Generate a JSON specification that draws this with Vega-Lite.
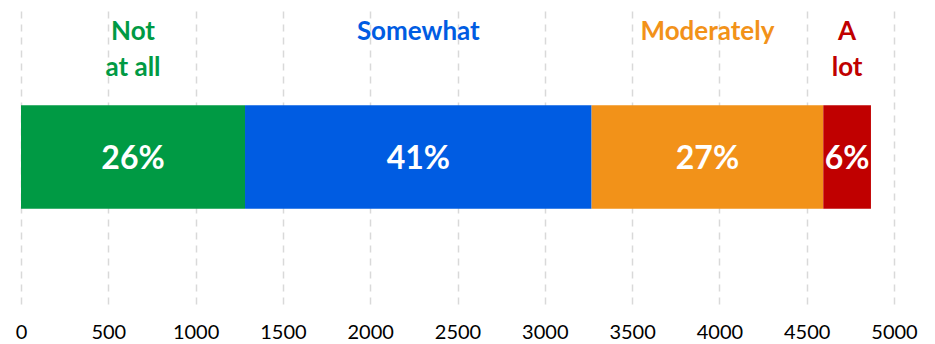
{
  "$schema": "https://vega.github.io/schema/vega-lite/v6.json",
  "width": 873,
  "height": 294,
  "autosize": {"type": "none"},
  "padding": {"left": 21, "top": 10, "right": 41, "bottom": 40},
  "background": "white",
  "config": {"view": {"stroke": null}, "font": "Lato"},
  "data": {
    "values": [
      {"category": "Not at all", "label": "Not\nat all", "order": 1, "count": 1283},
      {"category": "Somewhat", "label": "Somewhat", "order": 2, "count": 1985},
      {"category": "Moderately", "label": "Moderately", "order": 3, "count": 1327},
      {"category": "A lot", "label": "A\nlot", "order": 4, "count": 273}
    ]
  },
  "transform": [
    {"joinaggregate": [{"op": "sum", "field": "count", "as": "total"}]},
    {"calculate": "datum.count / datum.total", "as": "share"},
    {"stack": "count", "groupby": [], "sort": [{"field": "order"}], "as": ["x0", "x1"]},
    {"calculate": "(datum.x0 + datum.x1) / 2", "as": "xmid"},
    {"calculate": "'all'", "as": "row"}
  ],
  "encoding": {
    "y": {"field": "row", "type": "nominal", "axis": null}
  },
  "layer": [
    {
      "mark": {"type": "bar", "size": 103.6},
      "encoding": {
        "x": {
          "field": "x0",
          "type": "quantitative",
          "scale": {"domain": [0, 5000], "nice": false},
          "axis": {
            "title": null,
            "format": "d",
            "values": [0, 500, 1000, 1500, 2000, 2500, 3000, 3500, 4000, 4500, 5000],
            "grid": true,
            "gridDash": [7, 6],
            "gridColor": "#d9d9d9",
            "gridWidth": 1.5,
            "domain": false,
            "ticks": false,
            "labelFontSize": 20,
            "labelColor": "#000000",
            "labelPadding": 18,
            "labelFlush": false
          }
        },
        "x2": {"field": "x1"},
        "color": {
          "field": "category",
          "type": "nominal",
          "scale": {
            "domain": ["Not at all", "Somewhat", "Moderately", "A lot"],
            "range": ["#009A44", "#005CE2", "#F29219", "#C00000"]
          },
          "legend": null
        }
      }
    },
    {
      "mark": {"type": "text", "color": "white", "fontSize": 32, "fontWeight": "bold", "baseline": "middle", "dy": 2},
      "encoding": {
        "x": {"field": "xmid", "type": "quantitative"},
        "text": {"field": "share", "type": "quantitative", "format": ".0%"}
      }
    },
    {
      "mark": {"type": "text", "fontSize": 26, "fontWeight": "bold", "baseline": "alphabetic", "lineBreak": "\n", "lineHeight": 36, "dy": -117.5},
      "encoding": {
        "x": {"field": "xmid", "type": "quantitative"},
        "text": {"field": "label", "type": "nominal"},
        "color": {"field": "category", "type": "nominal", "legend": null}
      }
    }
  ]
}
